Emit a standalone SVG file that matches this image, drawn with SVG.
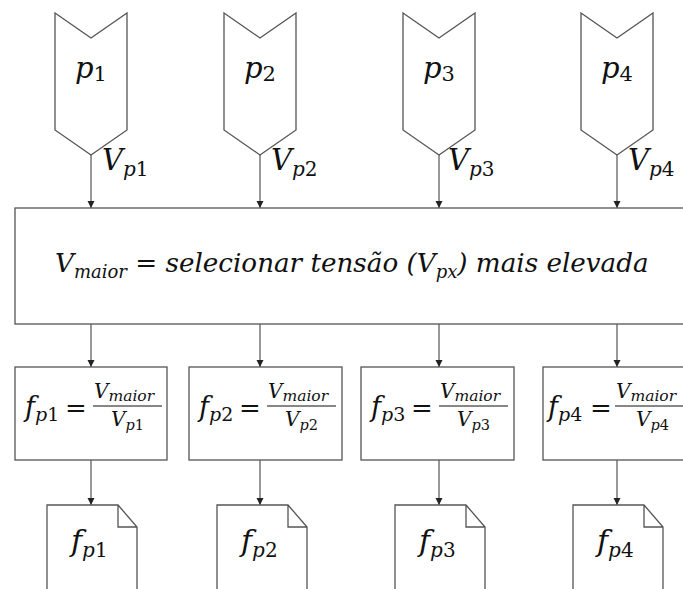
<svg xmlns="http://www.w3.org/2000/svg" width="683" height="589" viewBox="0 0 683 589" font-family="'DejaVu Serif', serif">
<style>
.s{fill:#fff;stroke:#555;stroke-width:1.3}
.c{stroke:#333;stroke-width:1;fill:none}
.m{font-family:"DejaVu Serif",serif;font-style:italic;fill:#111}
.u{font-style:normal}
.eq{font-family:"DejaVu Serif",serif;font-size:26px;fill:#111}
.fl{stroke:#111;stroke-width:1.2}
</style>
<defs>
<marker id="ah" markerWidth="8" markerHeight="8" refX="7" refY="4" orient="auto" markerUnits="userSpaceOnUse">
<path d="M0,0.5 L7,4 L0,7.5 Z" fill="#222"/>
</marker>
<polygon id="chev" points="-36,0 0,25 36,0 36,117 0,142 -36,117"/>
<path id="doc" d="M-45,0 H26 L45,22 V90 H-45 Z M26,0 V22 H45"/>
</defs>
<rect width="683" height="589" fill="#fff"/>
<g id="connectors">
<line class="c" x1="91" y1="155" x2="91" y2="208" marker-end="url(#ah)"/>
<line class="c" x1="260" y1="155" x2="260" y2="208" marker-end="url(#ah)"/>
<line class="c" x1="439" y1="155" x2="439" y2="208" marker-end="url(#ah)"/>
<line class="c" x1="617" y1="155" x2="617" y2="208" marker-end="url(#ah)"/>
<line class="c" x1="91" y1="324" x2="91" y2="367" marker-end="url(#ah)"/>
<line class="c" x1="260" y1="324" x2="260" y2="367" marker-end="url(#ah)"/>
<line class="c" x1="439" y1="324" x2="439" y2="367" marker-end="url(#ah)"/>
<line class="c" x1="617" y1="324" x2="617" y2="367" marker-end="url(#ah)"/>
<line class="c" x1="91" y1="460" x2="91" y2="505" marker-end="url(#ah)"/>
<line class="c" x1="260" y1="460" x2="260" y2="505" marker-end="url(#ah)"/>
<line class="c" x1="439" y1="460" x2="439" y2="505" marker-end="url(#ah)"/>
<line class="c" x1="617" y1="460" x2="617" y2="505" marker-end="url(#ah)"/>
<text class="m" x="102" y="170" font-size="29">V<tspan font-size="20" dy="6">p<tspan class="u">1</tspan></tspan></text>
<text class="m" x="271" y="170" font-size="29">V<tspan font-size="20" dy="6">p<tspan class="u">2</tspan></tspan></text>
<text class="m" x="448" y="170" font-size="29">V<tspan font-size="20" dy="6">p<tspan class="u">3</tspan></tspan></text>
<text class="m" x="628" y="170" font-size="29">V<tspan font-size="20" dy="6">p<tspan class="u">4</tspan></tspan></text>
</g>
<g id="p1"><use href="#chev" class="s" x="91" y="13"/><text class="m" x="75" y="78" font-size="29">p<tspan class="u" font-size="21" dy="3">1</tspan></text></g>
<g id="p2"><use href="#chev" class="s" x="260" y="13"/><text class="m" x="244" y="78" font-size="29">p<tspan class="u" font-size="21" dy="3">2</tspan></text></g>
<g id="p3"><use href="#chev" class="s" x="439" y="13"/><text class="m" x="423" y="78" font-size="29">p<tspan class="u" font-size="21" dy="3">3</tspan></text></g>
<g id="p4"><use href="#chev" class="s" x="617" y="13"/><text class="m" x="601" y="78" font-size="29">p<tspan class="u" font-size="21" dy="3">4</tspan></text></g>
<g id="select">
<rect class="s" x="15" y="208" width="680" height="116"/>
<text class="m" x="55" y="272" font-size="26.2">V<tspan font-size="18" dy="6">maior</tspan><tspan dy="-6"> = selecionar tensão (</tspan>V<tspan font-size="18" dy="6">px</tspan><tspan dy="-6">) mais elevada</tspan></text>
</g>
<g id="fbox1"><rect class="s" x="15" y="367" width="152" height="93"/>
<text class="m" x="25" y="416" font-size="27">f<tspan font-size="19" dy="5">p<tspan class="u">1</tspan></tspan></text>
<text class="eq" x="65" y="417">=</text>
<text class="m" x="94" y="398" font-size="20">V<tspan font-size="15.5" dy="3">maior</tspan></text>
<line class="fl" x1="93" y1="406" x2="162" y2="406"/>
<text class="m" x="111" y="426" font-size="20">V<tspan font-size="14.5" dy="4">p<tspan class="u">1</tspan></tspan></text></g>
<g id="fbox2"><rect class="s" x="189" y="367" width="153" height="93"/>
<text class="m" x="199" y="416" font-size="27">f<tspan font-size="19" dy="5">p<tspan class="u">2</tspan></tspan></text>
<text class="eq" x="239" y="417">=</text>
<text class="m" x="268" y="398" font-size="20">V<tspan font-size="15.5" dy="3">maior</tspan></text>
<line class="fl" x1="267" y1="406" x2="336" y2="406"/>
<text class="m" x="285" y="426" font-size="20">V<tspan font-size="14.5" dy="4">p<tspan class="u">2</tspan></tspan></text></g>
<g id="fbox3"><rect class="s" x="361" y="367" width="153" height="93"/>
<text class="m" x="371" y="416" font-size="27">f<tspan font-size="19" dy="5">p<tspan class="u">3</tspan></tspan></text>
<text class="eq" x="411" y="417">=</text>
<text class="m" x="440" y="398" font-size="20">V<tspan font-size="15.5" dy="3">maior</tspan></text>
<line class="fl" x1="439" y1="406" x2="508" y2="406"/>
<text class="m" x="457" y="426" font-size="20">V<tspan font-size="14.5" dy="4">p<tspan class="u">3</tspan></tspan></text></g>
<g id="fbox4"><rect class="s" x="543" y="367" width="160" height="93"/>
<text class="m" x="548" y="416" font-size="27">f<tspan font-size="19" dy="5">p<tspan class="u">4</tspan></tspan></text>
<text class="eq" x="590" y="417">=</text>
<text class="m" x="616" y="398" font-size="20">V<tspan font-size="15.5" dy="3">maior</tspan></text>
<line class="fl" x1="615" y1="406" x2="683" y2="406"/>
<text class="m" x="636" y="426" font-size="20">V<tspan font-size="14.5" dy="4">p<tspan class="u">4</tspan></tspan></text></g>
<g id="doc1"><use href="#doc" class="s" x="92" y="505"/><text class="m" x="71" y="551" font-size="30">f<tspan font-size="20" dy="6">p<tspan class="u">1</tspan></tspan></text></g>
<g id="doc2"><use href="#doc" class="s" x="262" y="505"/><text class="m" x="241" y="551" font-size="30">f<tspan font-size="20" dy="6">p<tspan class="u">2</tspan></tspan></text></g>
<g id="doc3"><use href="#doc" class="s" x="440" y="505"/><text class="m" x="419" y="551" font-size="30">f<tspan font-size="20" dy="6">p<tspan class="u">3</tspan></tspan></text></g>
<g id="doc4"><use href="#doc" class="s" x="618" y="505"/><text class="m" x="597" y="551" font-size="30">f<tspan font-size="20" dy="6">p<tspan class="u">4</tspan></tspan></text></g>
</svg>
